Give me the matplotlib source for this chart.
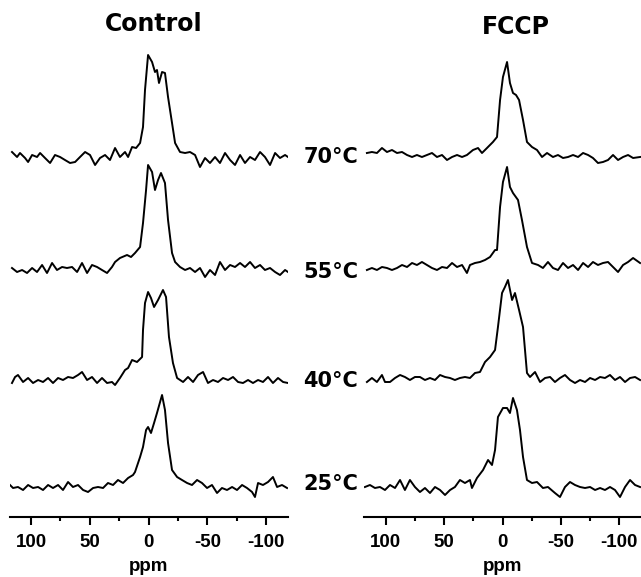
import matplotlib
matplotlib.use('Agg')
import matplotlib.pyplot as plt
from matplotlib.ticker import MultipleLocator

plt.rcParams['axes.unicode_minus'] = False

# temperatures (top to bottom)
temps = ['70', '55', '40', '25']

# ---- Control spectra: chemical shift (ppm) and intensity (a.u.) ----
ctrl_70_ppm = [116.2, 111.9, 109.4, 105.1, 102.5, 99.1, 94.9, 92.3, 88.1, 83.8, 79.6, 75.3, 71.1, 66.8,
               62.5, 58.3, 54.0, 49.8, 45.5, 41.3, 37.0, 32.8, 28.5, 24.3, 20.0, 17.4, 14.0, 10.6, 7.2,
               4.7, 3.0, 0.4, -3.0, -5.5, -7.2, -8.9, -11.5, -14.0, -16.6, -20.0, -22.6, -26.8, -31.1,
               -35.3, -39.6, -43.8, -48.1, -52.3, -56.6, -60.8, -65.1, -69.4, -73.6, -77.9, -82.1,
               -86.4, -90.6, -94.9, -99.1, -103.4, -107.7, -111.9, -116.2, -118.7]
ctrl_70_int = [4, -1, 3, -2, -6, 1, -1, 3, -2, -7, 1, -1, -4, -7, -6, -1, 4, 1, -9, -2, 1, -4, 8, -1, 4,
               -1, 9, 8, 13, 29, 66, 101, 94, 84, 86, 73, 84, 83, 59, 33, 13, 4, 3, 4, 1, -11, -2, -7,
               -1, -7, 3, -4, -9, 1, -7, -1, -4, 4, -1, -9, 3, -2, 1, -1]

ctrl_55_ppm = [116.2, 111.9, 107.6, 103.4, 99.1, 94.9, 90.6, 86.4, 82.1, 77.9, 73.6, 69.4, 65.1, 60.8,
               56.6, 52.3, 48.1, 43.8, 39.6, 35.3, 31.1, 28.5, 24.3, 18.3, 14.9, 11.5, 7.2, 4.7, 2.1,
               0.4, -3.0, -5.5, -8.1, -10.6, -14.0, -16.6, -20.0, -22.6, -26.8, -31.1, -35.3, -39.6,
               -43.8, -48.1, -52.3, -56.6, -60.8, -65.1, -69.4, -73.6, -77.9, -82.1, -86.4, -90.6,
               -94.9, -99.1, -103.4, -107.7, -111.9, -116.2, -118.7]
ctrl_55_int = [1, -3, -1, -4, 1, -3, 4, -4, 6, -1, 2, 1, 2, -3, 6, -4, 4, 2, -1, -4, 2, 7, 11, 14, 12,
               16, 22, 46, 79, 104, 97, 79, 89, 96, 86, 49, 16, 7, 2, -1, 1, -3, 1, -8, -1, -6, 7, -1,
               4, 2, 6, 2, 7, 1, 4, -1, 1, -3, -6, -1, -3]

ctrl_40_ppm = [116.2, 113.6, 111.1, 106.8, 102.5, 98.3, 94.0, 89.8, 85.5, 81.3, 77.0, 72.8, 68.5, 64.3,
               60.0, 56.6, 52.3, 48.1, 43.8, 39.6, 35.3, 31.1, 28.5, 24.3, 20.0, 17.4, 14.0, 9.8, 5.5,
               4.7, 3.0, 0.4, -2.1, -4.7, -8.1, -12.3, -14.9, -17.4, -20.8, -24.3, -29.4, -33.6,
               -37.9, -42.1, -46.4, -50.6, -54.9, -59.1, -63.4, -67.7, -71.9, -76.2, -80.4, -84.7,
               -88.9, -93.2, -97.4, -101.7, -105.9, -110.2, -114.5, -118.7]
ctrl_40_int = [-3, 3, 5, -2, 2, -3, 0, -2, 2, -3, 2, 0, 3, 2, 5, 8, 0, 3, -3, 2, -3, -2, -5, 2, 10, 12,
               20, 18, 23, 50, 77, 88, 82, 73, 80, 90, 83, 43, 17, 2, -2, 3, -2, 5, 8, -3, 0, -2, 2, 0,
               3, -2, -3, 0, -3, 0, -2, 3, -3, 2, -2, -3]

ctrl_25_ppm = [117.9, 115.3, 111.1, 106.8, 102.5, 98.3, 94.0, 89.8, 85.5, 81.3, 77.0, 72.8, 68.5, 64.3,
               60.0, 55.7, 51.5, 47.2, 43.0, 38.7, 34.5, 30.2, 26.0, 21.7, 17.4, 13.2, 11.5, 7.2, 4.7,
               2.1, 0.4, -2.1, -4.7, -7.2, -11.5, -14.0, -16.6, -20.0, -24.3, -28.5, -32.8, -37.0,
               -41.3, -45.5, -49.8, -54.0, -58.3, -62.5, -66.8, -71.1, -75.3, -79.6, -83.8, -88.1,
               -90.6, -93.2, -97.4, -101.7, -105.9, -109.4, -113.6, -117.9]
ctrl_25_int = [2, -1, 0, -3, 2, -1, 0, -3, 2, -1, 2, -3, 5, 0, 2, -3, -5, -1, 0, -1, 4, 2, 7, 4, 9, 12,
               15, 30, 40, 57, 60, 54, 64, 74, 92, 77, 44, 17, 10, 7, 4, 2, 7, 4, -1, 2, -6, -1, -3, 0,
               -3, 2, -1, -5, -10, 4, 2, 5, 10, 0, 2, -1]

# ---- FCCP spectra ----
fccp_70_ppm = [116.3, 112.0, 107.7, 103.4, 99.1, 94.8, 90.5, 86.2, 81.9, 77.6, 73.4, 69.1, 64.8, 60.5,
               56.2, 51.9, 47.6, 43.3, 39.0, 34.7, 30.5, 25.3, 21.0, 17.6, 13.3, 8.2, 4.7, 2.1, -0.4,
               -3.9, -6.4, -9.0, -11.6, -14.2, -17.6, -21.0, -25.3, -29.6, -33.9, -38.2, -43.3,
               -47.6, -51.9, -56.2, -60.5, -64.8, -69.1, -73.4, -77.6, -81.9, -86.2, -90.5, -94.8,
               -99.1, -103.4, -107.7, -112.0, -118.0]
fccp_70_int = [3, 4, 3, 8, 4, 6, 3, 4, 1, -1, 1, -1, 1, 3, -1, 1, -4, -1, 1, -1, 1, 6, 8, 3, 8, 14, 19,
               56, 79, 94, 73, 63, 61, 56, 36, 14, 9, 6, -1, 3, -1, 1, -2, -1, 1, -1, 3, 1, -2, -7, -6,
               -4, 1, -4, -1, 1, -2, -1]

fccp_55_ppm = [116.3, 112.0, 107.7, 103.4, 99.1, 94.8, 90.5, 86.2, 81.9, 77.6, 73.4, 69.1, 64.8, 60.5,
               56.2, 51.9, 47.6, 43.3, 39.0, 34.7, 30.5, 27.9, 23.6, 19.3, 15.0, 10.7, 6.4, 4.7, 2.1,
               -0.4, -3.9, -6.4, -9.0, -13.3, -16.7, -21.0, -25.3, -30.5, -34.7, -39.0, -43.3, -47.6,
               -51.9, -56.2, -60.5, -64.8, -69.1, -73.4, -77.6, -81.9, -86.2, -90.5, -94.8, -99.1,
               -103.4, -107.7, -112.0, -118.0]
fccp_55_int = [-1, 1, -1, 2, 1, -1, 1, 4, 2, 6, 4, 7, 4, 1, -1, 2, 1, 6, 2, 4, -4, 4, 6, 7, 9, 12, 19,
               19, 62, 87, 102, 82, 76, 69, 49, 22, 6, 4, 1, 7, 1, -1, 6, 1, 4, -1, 6, 2, 7, 4, 6, 7, 2,
               -3, 4, 7, 11, 6]

fccp_40_ppm = [116.3, 112.0, 107.7, 103.4, 100.8, 96.5, 92.2, 87.9, 83.7, 79.4, 75.1, 70.8, 66.5, 62.2,
               57.9, 53.6, 49.3, 45.0, 40.8, 36.5, 32.2, 27.9, 23.6, 19.3, 15.0, 10.7, 6.4, 3.9, 0.4,
               -2.1, -4.7, -8.2, -10.7, -14.2, -17.6, -21.0, -23.6, -27.9, -32.2, -36.5, -40.8,
               -45.0, -49.3, -53.6, -57.9, -62.2, -66.5, -70.8, -75.1, -79.4, -83.7, -87.9, -92.2,
               -96.5, -100.8, -105.1, -109.4, -113.7, -118.0]
fccp_40_int = [-2, 2, -2, 5, -2, -2, 2, 5, 3, 0, 3, 3, 0, 2, 0, 5, 3, 2, 0, 2, 3, 2, 7, 8, 18, 23, 30,
               53, 87, 93, 100, 80, 87, 70, 53, 7, 3, 8, -2, 2, 3, -2, 2, 5, 0, -3, 0, -2, 2, 0, 3, 2,
               5, 0, 3, -2, 2, 3, 0]

fccp_25_ppm = [118.0, 113.7, 109.4, 105.1, 100.8, 96.5, 92.2, 87.9, 83.7, 79.4, 75.1, 70.8, 66.5, 62.2,
               57.9, 53.6, 49.3, 45.0, 40.8, 36.5, 32.2, 27.9, 26.2, 21.9, 16.7, 12.4, 9.0, 6.4, 3.9,
               -0.4, -3.9, -6.4, -9.0, -12.4, -15.0, -17.6, -21.0, -25.3, -29.6, -34.7, -39.0, -45.0,
               -49.3, -53.6, -57.9, -62.2, -66.5, -70.8, -75.1, -79.4, -83.7, -87.9, -92.2, -96.5,
               -100.8, -105.1, -109.4, -113.7, -118.0]
fccp_25_int = [0, 2, -1, 0, -3, 2, -1, 7, -3, 7, 0, -5, -1, -6, 0, -3, -8, -3, 0, 7, 4, 7, -1, 9, 17,
               27, 22, 37, 70, 79, 79, 74, 89, 77, 57, 30, 7, 4, 5, -1, 0, -6, -10, 0, 5, 2, 0, -1, 0,
               -3, -1, -3, 0, -3, -10, 0, 7, 2, 0]

control = [(ctrl_70_ppm, ctrl_70_int), (ctrl_55_ppm, ctrl_55_int),
           (ctrl_40_ppm, ctrl_40_int), (ctrl_25_ppm, ctrl_25_int)]
fccp = [(fccp_70_ppm, fccp_70_int), (fccp_55_ppm, fccp_55_int),
        (fccp_40_ppm, fccp_40_int), (fccp_25_ppm, fccp_25_int)]

# vertical stacking of the spectra
offsets = [361, 248, 137, 30]

W, H = 641, 577
fig = plt.figure(figsize=(W / 100, H / 100), dpi=100)
font = 'Liberation Sans'

ax_l = fig.add_axes([10 / W, 60 / H, 278 / W, 477 / H])
ax_r = fig.add_axes([364 / W, 60 / H, 277 / W, 477 / H])


def style_axis(ax, xlim):
    for side in ['top', 'left', 'right']:
        ax.spines[side].set_visible(False)
    ax.spines['bottom'].set_linewidth(1.5)
    ax.set_xlim(*xlim)
    ax.set_ylim(0, 477)
    ax.set_yticks([])
    ax.xaxis.set_major_locator(MultipleLocator(50))
    ax.xaxis.set_minor_locator(MultipleLocator(25))
    ax.tick_params(axis='x', which='major', direction='out', length=6, width=1.5, pad=6,
                   labelsize=13.5)
    ax.tick_params(axis='x', which='minor', direction='out', length=3, width=1.5)
    for lab in ax.get_xticklabels():
        lab.set_family(font)
        lab.set_fontweight('bold')
    ax.set_xlabel('ppm', fontsize=13.5, family=font, fontweight='bold', labelpad=5)
    ax.patch.set_alpha(0)


for ax, spectra, xlim in [(ax_l, control, (117.9, -118.7)), (ax_r, fccp, (118.8, -118.8))]:
    style_axis(ax, xlim)
    for (ppm, inten), off in zip(spectra, offsets):
        ax.plot(ppm, [v + off for v in inten], color='black', linewidth=1.4)

# titles
fig.text(154 / W, 1 - 24 / H, 'Control', ha='center', va='center', fontsize=17, fontweight='bold')
fig.text(516 / W, 1 - 27 / H, 'FCCP', ha='center', va='center', fontsize=17, fontweight='bold')

# temperature labels between the panels
label_y = [157, 272, 381, 484]
for t, y in zip(temps, label_y):
    fig.text(331 / W, 1 - y / H, t + '°C', ha='center', va='center', fontsize=15, fontweight='bold')

fig.savefig('out.png', dpi=100)
